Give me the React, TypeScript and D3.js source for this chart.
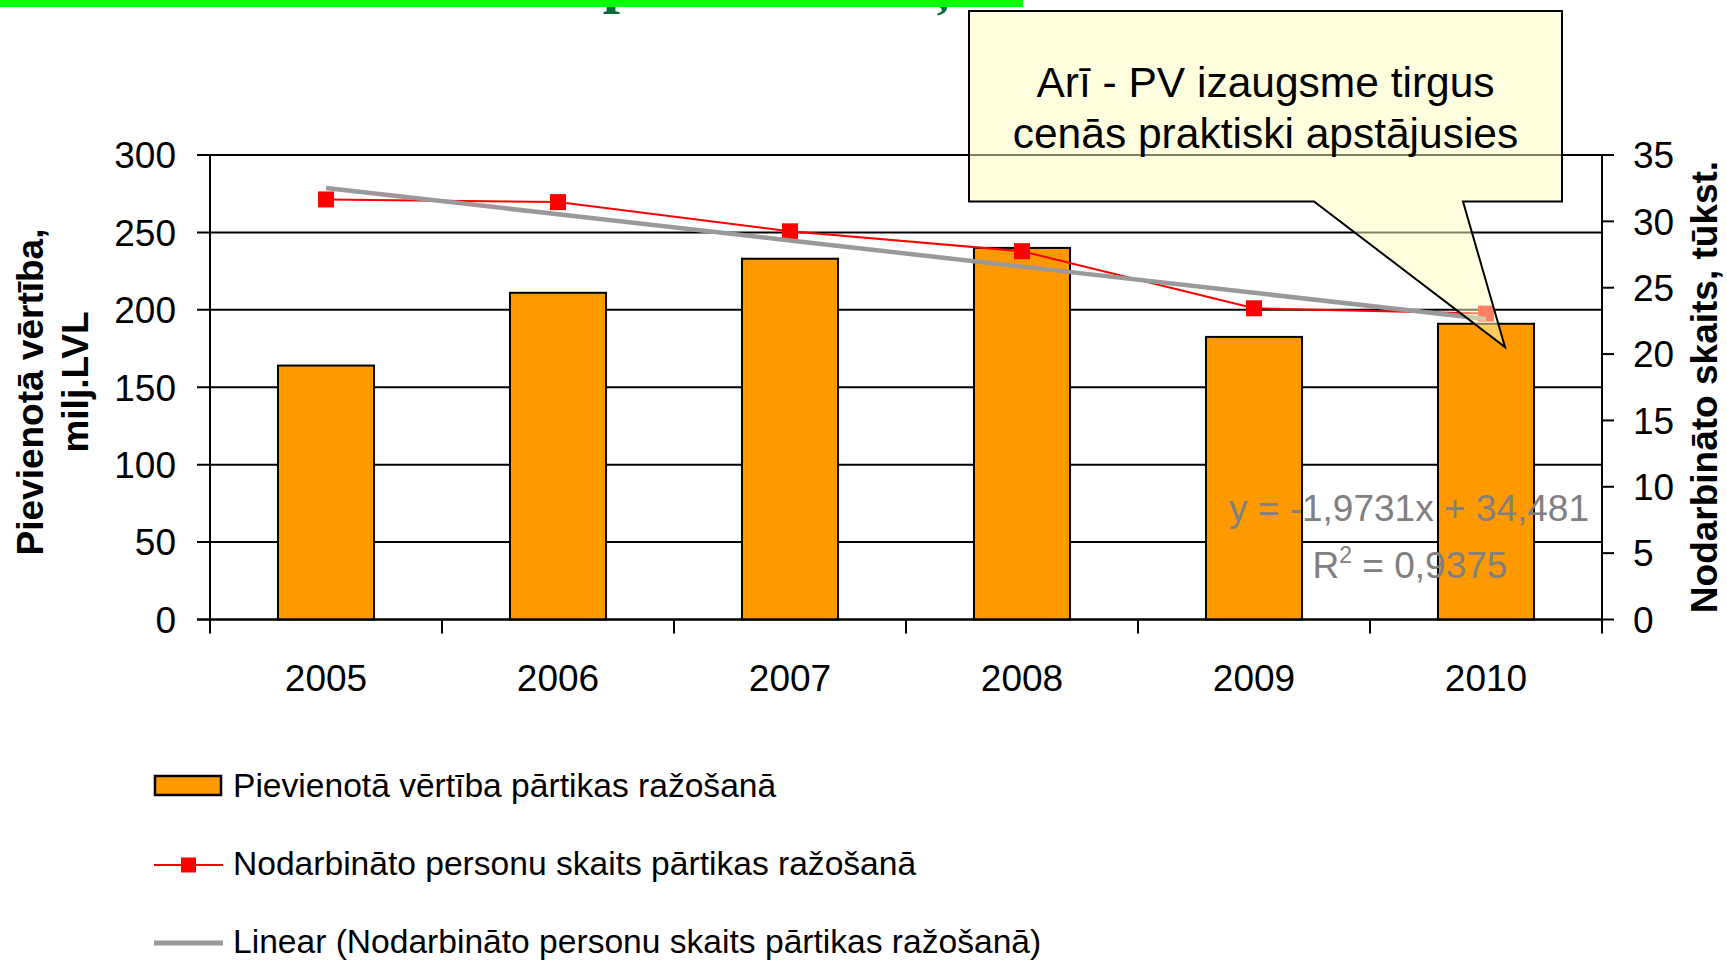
import { useEffect, useRef } from 'react';
import * as d3 from 'd3';

const years = ['2005', '2006', '2007', '2008', '2009', '2010'];
// Pievienotā vērtība, milj. LVL
const addedValue = [164, 211, 233, 240, 182.5, 191];
// Nodarbināto skaits, tūkst.
const employed = [31.65, 31.45, 29.25, 27.75, 23.45, 23.05];
// lineārā trenda koeficienti (no attēla)
const trendSlope = -1.9731;
const trendIntercept = 34.481;
const trendLabel = 'y = -1,9731x + 34,481';
const r2Value = '0,9375';

const leftTicks = [0, 50, 100, 150, 200, 250, 300];
const rightTicks = [0, 5, 10, 15, 20, 25, 30, 35];

const legendLabels = [
  'Pievienotā vērtība pārtikas ražošanā',
  'Nodarbināto personu skaits pārtikas ražošanā',
  'Linear (Nodarbināto personu skaits pārtikas ražošanā)',
];
const calloutLines = ['Arī - PV izaugsme tirgus', 'cenās praktiski apstājusies'];

const FONT = '"Liberation Sans", Arial, sans-serif';

const App = () => {
  const svgRef = useRef(null);

  useEffect(() => {
    const width = 1727;
    const height = 960;
    const plot = { left: 210, right: 1602, top: 155, bottom: 619.5 };

    const svg = d3.select(svgRef.current)
      .attr('width', width)
      .attr('height', height);
    svg.selectAll('*').remove();

    // top slide remains: title descenders + green bar
    svg.append('text')
      .attr('x', 620).attr('y', 1)
      .attr('text-anchor', 'middle')
      .style('font-family', '"Liberation Serif", "Times New Roman", serif')
      .style('font-size', '62px')
      .style('font-weight', 'bold')
      .style('fill', '#0a6b3a')
      .text('p');
    svg.append('text')
      .attr('x', 942).attr('y', 0)
      .attr('text-anchor', 'middle')
      .style('font-family', '"Liberation Serif", "Times New Roman", serif')
      .style('font-size', '62px')
      .style('font-weight', 'bold')
      .style('fill', '#0a6b3a')
      .text('ņ');
    svg.append('rect')
      .attr('x', 0).attr('y', 0)
      .attr('width', 1023).attr('height', 7)
      .attr('fill', '#00ff00');

    const xCat = d3.scaleBand()
      .domain(years)
      .range([plot.left, plot.right])
      .padding(0);

    const xBar = d3.scaleBand()
      .domain(years)
      .range([plot.left, plot.right])
      .paddingInner(0.586)
      .paddingOuter(0.293);

    const yLeft = d3.scaleLinear().domain([0, 300]).range([plot.bottom, plot.top]);
    const yRight = d3.scaleLinear().domain([0, 35]).range([plot.bottom, plot.top]);

    const center = d => xCat(d) + xCat.bandwidth() / 2;

    // gridlines + left ticks
    svg.append('g')
      .selectAll('line')
      .data(leftTicks)
      .enter().append('line')
      .attr('x1', plot.left - 13)
      .attr('x2', plot.right)
      .attr('y1', d => yLeft(d))
      .attr('y2', d => yLeft(d))
      .attr('stroke', '#000')
      .attr('stroke-width', 2);

    // bars
    svg.append('g')
      .selectAll('rect')
      .data(addedValue)
      .enter().append('rect')
      .attr('x', (d, i) => xBar(years[i]))
      .attr('y', d => yLeft(d))
      .attr('width', xBar.bandwidth())
      .attr('height', d => yLeft(0) - yLeft(d))
      .attr('fill', '#ff9900')
      .attr('stroke', '#000')
      .attr('stroke-width', 2);

    // axis lines
    svg.append('line')
      .attr('x1', plot.left).attr('x2', plot.left)
      .attr('y1', plot.top).attr('y2', plot.bottom + 14)
      .attr('stroke', '#000').attr('stroke-width', 2);
    svg.append('line')
      .attr('x1', plot.right).attr('x2', plot.right)
      .attr('y1', plot.top).attr('y2', plot.bottom + 14)
      .attr('stroke', '#000').attr('stroke-width', 2);
    svg.append('line')
      .attr('x1', plot.left - 13).attr('x2', plot.right)
      .attr('y1', plot.bottom).attr('y2', plot.bottom)
      .attr('stroke', '#000').attr('stroke-width', 2);

    // category boundary ticks
    svg.append('g')
      .selectAll('line')
      .data(years.slice(1))
      .enter().append('line')
      .attr('x1', d => xCat(d)).attr('x2', d => xCat(d))
      .attr('y1', plot.bottom).attr('y2', plot.bottom + 14)
      .attr('stroke', '#000').attr('stroke-width', 2);

    // right ticks
    svg.append('g')
      .selectAll('line')
      .data(rightTicks)
      .enter().append('line')
      .attr('x1', plot.right).attr('x2', plot.right + 12)
      .attr('y1', d => yRight(d)).attr('y2', d => yRight(d))
      .attr('stroke', '#000').attr('stroke-width', 2);

    // tick labels
    svg.append('g')
      .selectAll('text')
      .data(leftTicks)
      .enter().append('text')
      .attr('x', 176)
      .attr('y', d => yLeft(d))
      .attr('dy', '0.36em')
      .attr('text-anchor', 'end')
      .style('font-family', FONT).style('font-size', '37px')
      .text(d => d);

    svg.append('g')
      .selectAll('text')
      .data(rightTicks)
      .enter().append('text')
      .attr('x', 1633)
      .attr('y', d => yRight(d))
      .attr('dy', '0.36em')
      .attr('text-anchor', 'start')
      .style('font-family', FONT).style('font-size', '37px')
      .text(d => d);

    svg.append('g')
      .selectAll('text')
      .data(years)
      .enter().append('text')
      .attr('x', d => center(d))
      .attr('y', 691)
      .attr('text-anchor', 'middle')
      .style('font-family', FONT).style('font-size', '37px')
      .text(d => d);

    // axis titles
    const leftTitle = [['Pievienotā vērtība,', 43, 392], ['milj.LVL', 88, 382]];
    leftTitle.forEach(([t, x, y]) => {
      svg.append('text')
        .attr('transform', `translate(${x},${y}) rotate(-90)`)
        .attr('text-anchor', 'middle')
        .style('font-family', FONT).style('font-size', '37px').style('font-weight', 'bold')
        .text(t);
    });
    svg.append('text')
      .attr('transform', 'translate(1717,387) rotate(-90)')
      .attr('text-anchor', 'middle')
      .style('font-family', FONT).style('font-size', '37px').style('font-weight', 'bold')
      .text('Nodarbināto skaits, tūkst.');

    // employed line
    const line = d3.line()
      .x((d, i) => center(years[i]))
      .y(d => yRight(d));

    svg.append('path')
      .datum(employed)
      .attr('d', line)
      .attr('fill', 'none')
      .attr('stroke', '#ff0000')
      .attr('stroke-width', 2);

    svg.append('g')
      .selectAll('rect')
      .data(employed)
      .enter().append('rect')
      .attr('x', (d, i) => center(years[i]) - 8)
      .attr('y', d => yRight(d) - 8)
      .attr('width', 16).attr('height', 16)
      .attr('fill', '#ff0000');

    // linear trend
    const trend = years.map((y, i) => trendIntercept + trendSlope * (i + 1));
    svg.append('path')
      .datum(trend)
      .attr('d', line)
      .attr('fill', 'none')
      .attr('stroke', '#999999')
      .attr('stroke-width', 4.5);

    const eq = svg.append('g')
      .style('font-family', FONT).style('font-size', '37px')
      .style('fill', '#808080');
    eq.append('text')
      .attr('x', 1409).attr('y', 521)
      .attr('text-anchor', 'middle')
      .text(trendLabel);
    const r2 = eq.append('text')
      .attr('x', 1410).attr('y', 578)
      .attr('text-anchor', 'middle');
    r2.append('tspan').text('R');
    r2.append('tspan').attr('dy', -15).style('font-size', '23px').text('2');
    r2.append('tspan').attr('dy', 15).text(` = ${r2Value}`);

    // callout
    const box = { l: 969, r: 1562, t: 11, b: 201.5 };
    const tip = { x: 1505, y: 347, a: 1314, c: 1463 };
    const callout = d3.path();
    callout.moveTo(box.l, box.t);
    callout.lineTo(box.r, box.t);
    callout.lineTo(box.r, box.b);
    callout.lineTo(tip.c, box.b);
    callout.lineTo(tip.x, tip.y);
    callout.lineTo(tip.a, box.b);
    callout.lineTo(box.l, box.b);
    callout.closePath();

    svg.append('path')
      .attr('d', callout.toString())
      .attr('fill', '#ffffc0')
      .attr('fill-opacity', 0.5)
      .attr('stroke', '#000')
      .attr('stroke-width', 2);

    svg.append('g')
      .selectAll('text')
      .data(calloutLines)
      .enter().append('text')
      .attr('x', (box.l + box.r) / 2)
      .attr('y', (d, i) => 97 + i * 51)
      .attr('text-anchor', 'middle')
      .style('font-family', FONT).style('font-size', '42.5px')
      .text(d => d);

    // legend
    const legend = svg.append('g');
    const rowY = [785, 863, 941];

    legend.append('rect')
      .attr('x', 155).attr('y', rowY[0] - 9)
      .attr('width', 66).attr('height', 19)
      .attr('fill', '#ff9900')
      .attr('stroke', '#000').attr('stroke-width', 2.5);

    legend.append('line')
      .attr('x1', 154).attr('x2', 223)
      .attr('y1', rowY[1] + 2).attr('y2', rowY[1] + 2)
      .attr('stroke', '#ff0000').attr('stroke-width', 2);
    legend.append('rect')
      .attr('x', 181).attr('y', rowY[1] - 5.5)
      .attr('width', 15).attr('height', 15)
      .attr('fill', '#ff0000');

    legend.append('line')
      .attr('x1', 154).attr('x2', 223)
      .attr('y1', rowY[2] + 2).attr('y2', rowY[2] + 2)
      .attr('stroke', '#999999').attr('stroke-width', 5);

    legend.selectAll('text.lbl')
      .data(legendLabels)
      .enter().append('text')
      .attr('class', 'lbl')
      .attr('x', 233)
      .attr('y', (d, i) => rowY[i] + 12)
      .style('font-family', FONT).style('font-size', '33.6px')
      .text(d => d);
  }, []);

  return (
    <div style={{ position: 'absolute', left: 0, top: 0, background: '#fff' }}>
      <svg ref={svgRef} style={{ display: 'block' }}></svg>
    </div>
  );
};

export default App;
